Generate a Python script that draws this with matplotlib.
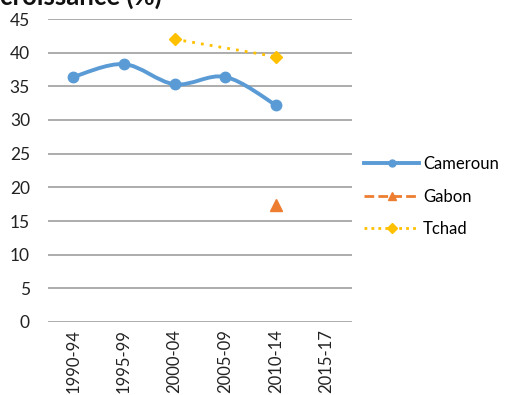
import matplotlib
matplotlib.use('Agg')
import matplotlib.pyplot as plt
import numpy as np
from matplotlib.path import Path
from matplotlib.patches import PathPatch
from matplotlib.lines import Line2D

plt.rcParams['font.family'] = ['Lato', 'DejaVu Sans']

periods = ['1990-94', '1995-99', '2000-04', '2005-09', '2010-14', '2015-17']
cameroun = [36.4, 38.3, 35.3, 36.4, 32.2, None]
gabon = [None, None, None, None, 17.4, None]
tchad = [None, None, 42.0, None, 39.4, None]

BLUE = '#5b9bd5'
ORANGE = '#ed7d31'
YELLOW = '#ffc000'


def smooth_path(xs, ys, t=1/6):
    # cubic bezier through the points (Catmull-Rom style tangents)
    pts = np.column_stack([xs, ys])
    verts = [pts[0]]
    codes = [Path.MOVETO]
    n = len(pts)
    for i in range(n - 1):
        p0 = pts[max(i - 1, 0)]
        p1 = pts[i]
        p2 = pts[i + 1]
        p3 = pts[min(i + 2, n - 1)]
        c1 = p1 + (p2 - p0) * t
        c2 = p2 - (p3 - p1) * t
        verts += [c1, c2, p2]
        codes += [Path.CURVE4] * 3
    return Path(verts, codes)


fig = plt.figure(figsize=(5.08, 3.95), dpi=100)
ax = fig.add_axes([48/508, 1 - 322/395, 304/508, 303/395])

x = np.arange(len(periods))

cx = [i for i, v in zip(x, cameroun) if v is not None]
cy = [v for v in cameroun if v is not None]
ax.add_patch(PathPatch(smooth_path(cx, cy), facecolor='none', edgecolor=BLUE,
                       lw=2.8, capstyle='round', zorder=3))
ax.plot(cx, cy, 'o', color=BLUE, ms=7.5, zorder=4)

gx = [i for i, v in zip(x, gabon) if v is not None]
gy = [v for v in gabon if v is not None]
ax.plot(gx, gy, '^', color=ORANGE, ms=8, zorder=4)

tx = [i for i, v in zip(x, tchad) if v is not None]
ty = [v for v in tchad if v is not None]
ax.plot(tx, ty, linestyle=(0, (1, 2.2)), color=YELLOW, lw=2, zorder=3)
ax.plot(tx, ty, 'D', color=YELLOW, ms=6, zorder=4)

ax.set_xlim(-0.5, len(periods) - 0.5)
ax.set_ylim(0, 45)
ax.set_yticks(np.arange(0, 46, 5))
ax.set_xticks(x)
ax.set_xticklabels(periods, rotation=90, fontsize=12, color='#222222')
ax.tick_params(axis='y', labelsize=12.5, colors='#222222', length=0, pad=13)
ax.tick_params(axis='x', length=0, pad=5)
ax.grid(axis='y', color='#a6a6a6', lw=1.3)
ax.set_axisbelow(True)
for s in ax.spines.values():
    s.set_visible(False)

handles = [
    Line2D([], [], color=BLUE, lw=2.8, marker='o', ms=5),
    Line2D([], [], color=ORANGE, lw=2, ls=(0, (3.5, 1.5)), marker='^', ms=6),
    Line2D([], [], color=YELLOW, lw=2, ls=(0, (1, 1.5)), marker='D', ms=5),
]
fig.legend(handles, ['Cameroun', 'Gabon', 'Tchad'], loc='upper left',
           bbox_to_anchor=(349/508, 1 - 141/395), frameon=False, fontsize=12,
           handlelength=3.3, handletextpad=0.25, labelspacing=1.0)

fig.text(0.0, 1 - 5/395, 'croissance (%)', fontsize=18.5, fontweight='bold',
         va='baseline', ha='left', color='#111111')

fig.savefig('out.png', dpi=100)
